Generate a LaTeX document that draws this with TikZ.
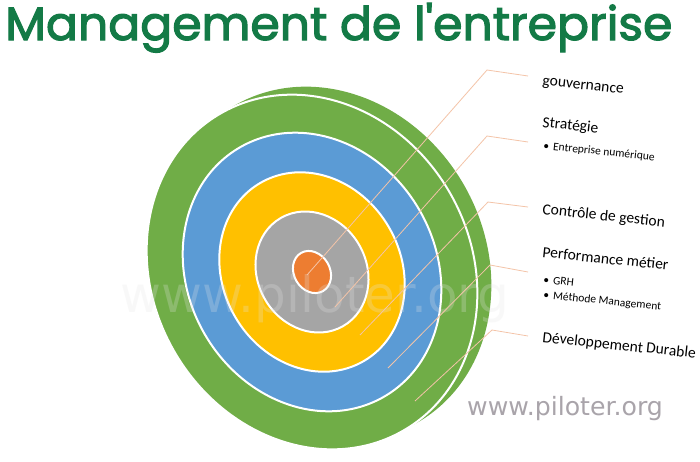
\documentclass[tikz,border=0pt]{standalone}
\usepackage{fontspec}
\usepackage{graphicx}
\setmainfont{Carlito}
\newfontfamily\titlefont[FakeBold=2.5]{Poppins}
\newfontfamily\webfont{DejaVu Sans}
\definecolor{cgreen}{HTML}{70AD47}
\definecolor{cblue}{HTML}{5B9BD5}
\definecolor{cyellow}{HTML}{FFC000}
\definecolor{cgray}{HTML}{A5A5A5}
\definecolor{corange}{HTML}{ED7D31}
\definecolor{cleader}{HTML}{F4C4A8}
\definecolor{ctitle}{HTML}{137A46}
\definecolor{cweb}{HTML}{A9A4AA}
\tikzset{
  ring/.style={draw=white, line width=2pt},
  leader/.style={draw=cleader, line width=0.8pt},
  biglabel/.style={anchor=base west, rotate=-6, inner sep=0pt, font=\fontsize{15.5}{17}\selectfont},
  smalllabel/.style={anchor=base west, rotate=-6, inner sep=0pt, font=\fontsize{11.5}{13}\selectfont},
}
\begin{document}
\begin{tikzpicture}[x=1pt,y=-1pt]
\useasboundingbox (0,0) rectangle (700,461);
\fill[white] (0,0) rectangle (700,461);
% title
\node[anchor=base west, inner sep=0pt, text=ctitle] (title) at (5,40)
  {\resizebox{667pt}{37pt}{\titlefont Management de l\char"27 entreprise}};
% target
\begin{scope}[shift={(326,264)}, rotate=-60]
  \fill[cgreen] (0,0) ellipse (183 and 159);
\end{scope}
\begin{scope}[shift={(312,272)}, rotate=-60]
  \path[ring, fill=cgreen] (0,0) ellipse (183 and 159);
  \path[ring, fill=cblue] (0,0) ellipse (144 and 124);
  \path[ring, fill=cyellow] (0,0) ellipse (103 and 89);
  \path[ring, fill=cgray] (0,0) ellipse (62.4 and 54.4);
  \path[ring, fill=corange] (0,0) ellipse (22 and 18);
\end{scope}
% watermark
\node[anchor=base, inner sep=0pt, text=black!10, opacity=0.25, font=\webfont\fontsize{50}{60}\selectfont] (wm) at (315,312) {www.piloter.org};
% leaders
\coordinate (s1) at (307,275); \coordinate (k1) at (487,70);  \coordinate (e1) at (528,76);
\coordinate (s2) at (335,307); \coordinate (k2) at (487,136); \coordinate (e2) at (528,142);
\coordinate (s3) at (360,335); \coordinate (k3) at (488,202); \coordinate (e3) at (528,207);
\coordinate (s4) at (388,368); \coordinate (k4) at (490,265); \coordinate (e4) at (528,272);
\coordinate (s5) at (415,401); \coordinate (k5) at (492,330); \coordinate (e5) at (528,336);
\draw[leader] (s1) -- (k1) -- (e1);
\draw[leader] (s2) -- (k2) -- (e2);
\draw[leader] (s3) -- (k3) -- (e3);
\draw[leader] (s4) -- (k4) -- (e4);
\draw[leader] (s5) -- (k5) -- (e5);
% labels
\node[biglabel] (l1) at (542,85) {gouvernance};
\node[biglabel] (l2) at (542,127) {Stratégie};
\node[smalllabel] (l2a) at (543,149) {•\hspace{4pt}Entreprise numérique};
\node[biglabel] (l3) at (542,214) {Contrôle de gestion};
\node[biglabel] (l4) at (542,257) {Performance métier};
\node[smalllabel] (l4a) at (543,283) {•\hspace{4pt}GRH};
\node[smalllabel] (l4b) at (543,298) {•\hspace{4pt}Méthode Management};
\node[biglabel] (l5) at (542,342) {Développement Durable};
% site
\node[anchor=base west, inner sep=0pt, text=cweb, font=\webfont\fontsize{25.2}{29}\selectfont] (site) at (467,415) {www.piloter.org};
\end{tikzpicture}
\end{document}
